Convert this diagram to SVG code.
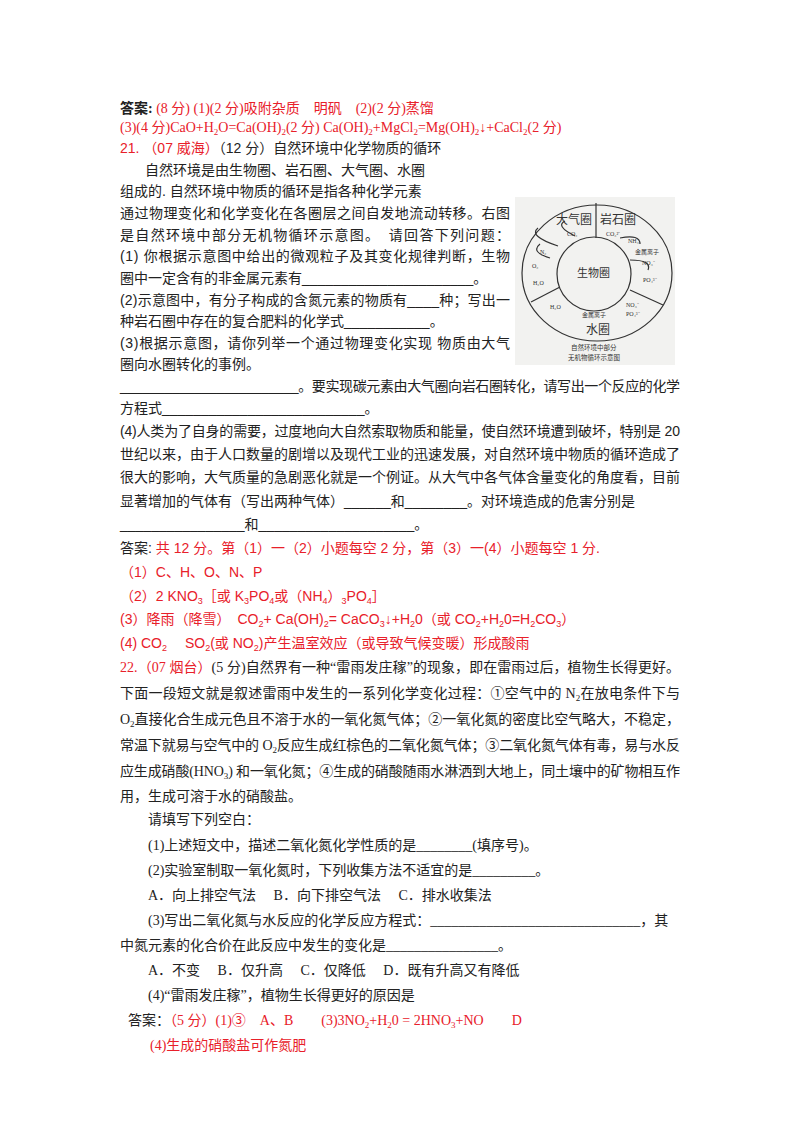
<svg xmlns="http://www.w3.org/2000/svg" width="800" height="1132" viewBox="0 0 800 1132" font-size="14">
<style>
text{font-family:"Liberation Serif","Noto Sans CJK SC",serif;fill:#222}
.r{fill:#e8202a}
.b{font-weight:bold}
.s{font-family:"Liberation Sans","Noto Sans CJK SC",sans-serif}
.f{font-family:"Liberation Serif","Noto Sans CJK SC",serif;fill:#333}
.fl{stroke:#333;fill:none;stroke-width:1.2}
</style>
<rect width="800" height="1132" fill="#fff"/>
<g id="text-top">
<text x="120" y="113"><tspan class="b">答案:</tspan><tspan class="r"> (8 分) (1)(2 分)吸附杂质　明矾　(2)(2 分)蒸馏</tspan></text>
<text x="120" y="132" class="r"> (3)(4 分)CaO+H<tspan font-size="9" dy="3">2</tspan><tspan dy="-3">O=Ca(OH)</tspan><tspan font-size="9" dy="3">2</tspan><tspan dy="-3">(2 分) Ca(OH)</tspan><tspan font-size="9" dy="3">2</tspan><tspan dy="-3">+MgCl</tspan><tspan font-size="9" dy="3">2</tspan><tspan dy="-3">=Mg(OH)</tspan><tspan font-size="9" dy="3">2</tspan><tspan dy="-3">↓+CaCl</tspan><tspan font-size="9" dy="3">2</tspan><tspan dy="-3">(2 分)</tspan></text>
<text x="120" y="153" class="s"><tspan class="r">21. （07 威海）</tspan>（12 分）自然环境中化学物质的循环</text>
<text x="145" y="175" class="s">自然环境是由生物圈、岩石圈、大气圈、水圈</text>
<text x="120" y="196" class="s">组成的. 自然环境中物质的循环是指各种化学元素</text>
<text x="120" y="218" class="s" textLength="390">通过物理变化和化学变化在各圈层之间自发地流动转移。右图</text>
<text x="120" y="240" class="s" textLength="390">是自然环境中部分无机物循环示意图。　请回答下列问题：</text>
<text x="120" y="261" class="s" textLength="390">(1) 你根据示意图中给出的微观粒子及其变化规律判断，生物</text>
<text x="120" y="283" class="s">圈中一定含有的非金属元素有______________________。</text>
<text x="120" y="305" class="s" textLength="390">(2)示意图中，有分子构成的含氮元素的物质有____种；写出一</text>
<text x="120" y="326" class="s">种岩石圈中存在的复合肥料的化学式___________。</text>
<text x="120" y="348" class="s" textLength="390">(3)根据示意图，请你列举一个通过物理变化实现 物质由大气</text>
<text x="120" y="369" class="s">圈向水圈转化的事例。</text>
<text x="120" y="391" class="s" textLength="560">________________________。要实现碳元素由大气圈向岩石圈转化，请写出一个反应的化学</text>
<text x="120" y="413" class="s">方程式__________________________。</text>
<text x="120" y="436" class="s" textLength="560">(4)人类为了自身的需要，过度地向大自然索取物质和能量，使自然环境遭到破坏，特别是 20</text>
<text x="120" y="459" class="s" textLength="560">世纪以来，由于人口数量的剧增以及现代工业的迅速发展，对自然环境中物质的循环造成了</text>
<text x="120" y="482" class="s" textLength="560">很大的影响，大气质量的急剧恶化就是一个例证。从大气中各气体含量变化的角度看，目前</text>
<text x="120" y="506" class="s">显著增加的气体有（写出两种气体）______和________。对环境造成的危害分别是</text>
<text x="120" y="529" class="s">________________和____________________。</text>
</g>
<g id="answer21">
<text x="120" y="553" class="s">答案:<tspan class="r"> 共 12 分。第（1）一（2）小题每空 2 分，第（3）一(4）小题每空 1 分.</tspan></text>
<text x="120" y="577" class="s r">（1）C、H、O、N、P</text>
<text x="120" y="601" class="s r">（2）2 KNO<tspan font-size="9" dy="3">3</tspan><tspan dy="-3">［或 K</tspan><tspan font-size="9" dy="3">3</tspan><tspan dy="-3">PO</tspan><tspan font-size="9" dy="3">4</tspan><tspan dy="-3">或（NH</tspan><tspan font-size="9" dy="3">4</tspan><tspan dy="-3">）</tspan><tspan font-size="9" dy="3">3</tspan><tspan dy="-3">PO</tspan><tspan font-size="9" dy="3">4</tspan><tspan dy="-3">］</tspan></text>
<text x="120" y="624" class="s r">(3）降雨（降雪）　CO<tspan font-size="9" dy="3">2</tspan><tspan dy="-3">+ Ca(OH)</tspan><tspan font-size="9" dy="3">2</tspan><tspan dy="-3">= CaCO</tspan><tspan font-size="9" dy="3">3</tspan><tspan dy="-3">↓+H</tspan><tspan font-size="9" dy="3">2</tspan><tspan dy="-3">0（或 CO</tspan><tspan font-size="9" dy="3">2</tspan><tspan dy="-3">+H</tspan><tspan font-size="9" dy="3">2</tspan><tspan dy="-3">0=H</tspan><tspan font-size="9" dy="3">2</tspan><tspan dy="-3">CO</tspan><tspan font-size="9" dy="3">3</tspan><tspan dy="-3">）</tspan></text>
<text x="120" y="648" class="s r">(4) CO<tspan font-size="9" dy="3">2</tspan><tspan dy="-3">　 SO</tspan><tspan font-size="9" dy="3">2</tspan><tspan dy="-3">(或 NO</tspan><tspan font-size="9" dy="3">2</tspan><tspan dy="-3">)产生温室效应（或导致气候变暖）形成酸雨</tspan></text>
</g>
<g id="q22">
<text x="120" y="672" textLength="560"><tspan class="r">22.（07 烟台）</tspan>(5 分)自然界有一种“雷雨发庄稼”的现象，即在雷雨过后，植物生长得更好。</text>
<text x="120" y="698" textLength="560">下面一段短文就是叙述雷雨中发生的一系列化学变化过程：①空气中的 N<tspan font-size="9" dy="3">2</tspan><tspan dy="-3">在放电条件下与</tspan></text>
<text x="120" y="724" textLength="560">O<tspan font-size="9" dy="3">2</tspan><tspan dy="-3">直接化合生成元色且不溶于水的一氧化氮气体；②一氧化氮的密度比空气略大，不稳定，</tspan></text>
<text x="120" y="750" textLength="560">常温下就易与空气中的 O<tspan font-size="9" dy="3">2</tspan><tspan dy="-3">反应生成红棕色的二氧化氮气体；③二氧化氮气体有毒，易与水反</tspan></text>
<text x="120" y="776" textLength="560">应生成硝酸(HNO<tspan font-size="9" dy="3">3</tspan><tspan dy="-3">) 和一氧化氮；④生成的硝酸随雨水淋洒到大地上，同土壤中的矿物相互作</tspan></text>
<text x="120" y="801">用，生成可溶于水的硝酸盐。</text>
<text x="148" y="824">请填写下列空白：</text>
<text x="148" y="850">(1)上述短文中，描述二氧化氮化学性质的是________(填序号)。</text>
<text x="148" y="875">(2)实验室制取一氧化氮时，下列收集方法不适宜的是_________。</text>
<text x="148" y="900">A．向上排空气法　 B．向下排空气法　 C．排水收集法</text>
<text x="148" y="925">(3)写出二氧化氮与水反应的化学反应方程式：______________________________，其</text>
<text x="120" y="950">中氮元素的化合价在此反应中发生的变化是________________。</text>
<text x="148" y="975">A．不变　 B．仅升高　 C．仅降低　 D．既有升高又有降低</text>
<text x="148" y="1000">(4)“雷雨发庄稼”，植物生长得更好的原因是</text>
<text x="128" y="1025"><tspan>答案：</tspan><tspan class="r">（5 分）(1)③　A、B　　(3)3NO</tspan><tspan class="r" font-size="9" dy="3">2</tspan><tspan class="r" dy="-3">+H</tspan><tspan class="r" font-size="9" dy="3">2</tspan><tspan class="r" dy="-3">0 = 2HNO</tspan><tspan class="r" font-size="9" dy="3">3</tspan><tspan class="r" dy="-3">+NO　　D</tspan></text>
<text x="150" y="1050" class="r">(4)生成的硝酸盐可作氮肥</text>
</g>
<g id="figure">
<rect x="515" y="197" width="160" height="168" fill="#f2f2f0"/>
<ellipse cx="597" cy="273" rx="75" ry="68" class="fl" stroke-width="1.5"/>
<circle cx="594" cy="274" r="37" class="fl"/>
<line x1="596" y1="203" x2="596" y2="238" class="fl" stroke-width="2"/>
<line x1="531" y1="302" x2="560" y2="287" class="fl" stroke-width="2"/>
<line x1="630" y1="290" x2="663" y2="305" class="fl" stroke-width="2"/>
<path d="M558 246 q-30 -10 -20 -18 M550 258 q-20 -6 -10 -14 M575 236 q-20 -10 -10 -15" class="fl" stroke-width="0.8"/>
<path d="M620 238 q20 -4 20 6 M630 260 q22 0 18 10" class="fl" stroke-width="0.8"/>
<text x="556" y="224" class="f" font-size="12">大气圈</text>
<text x="600" y="224" class="f" font-size="12">岩石圈</text>
<text x="567" y="236" class="f" font-size="6">CO₂</text>
<text x="606" y="236" class="f" font-size="6">CO₃²⁻</text>
<text x="628" y="243" class="f" font-size="6">NH₃</text>
<text x="635" y="254" class="f" font-size="6">金属离子</text>
<text x="642" y="265" class="f" font-size="6">NO₃⁻</text>
<text x="643" y="282" class="f" font-size="6">PO₄³⁻</text>
<text x="540" y="254" class="f" font-size="6">N₂</text>
<text x="532" y="268" class="f" font-size="6">O₂</text>
<text x="533" y="285" class="f" font-size="6">H₂O</text>
<text x="577" y="277" class="f" font-size="11">生物圈</text>
<text x="550" y="309" class="f" font-size="6">H₂O</text>
<text x="582" y="317" class="f" font-size="6">金属离子</text>
<text x="626" y="307" class="f" font-size="6">NO₃⁻</text>
<text x="626" y="316" class="f" font-size="6">PO₄³⁻</text>
<text x="586" y="334" class="f" font-size="12">水圈</text>
<text x="571" y="350" class="f" font-size="6.5">自然环境中部分</text>
<text x="568" y="360" class="f" font-size="6.5">无机物循环示意图</text>
</g>
</svg>
